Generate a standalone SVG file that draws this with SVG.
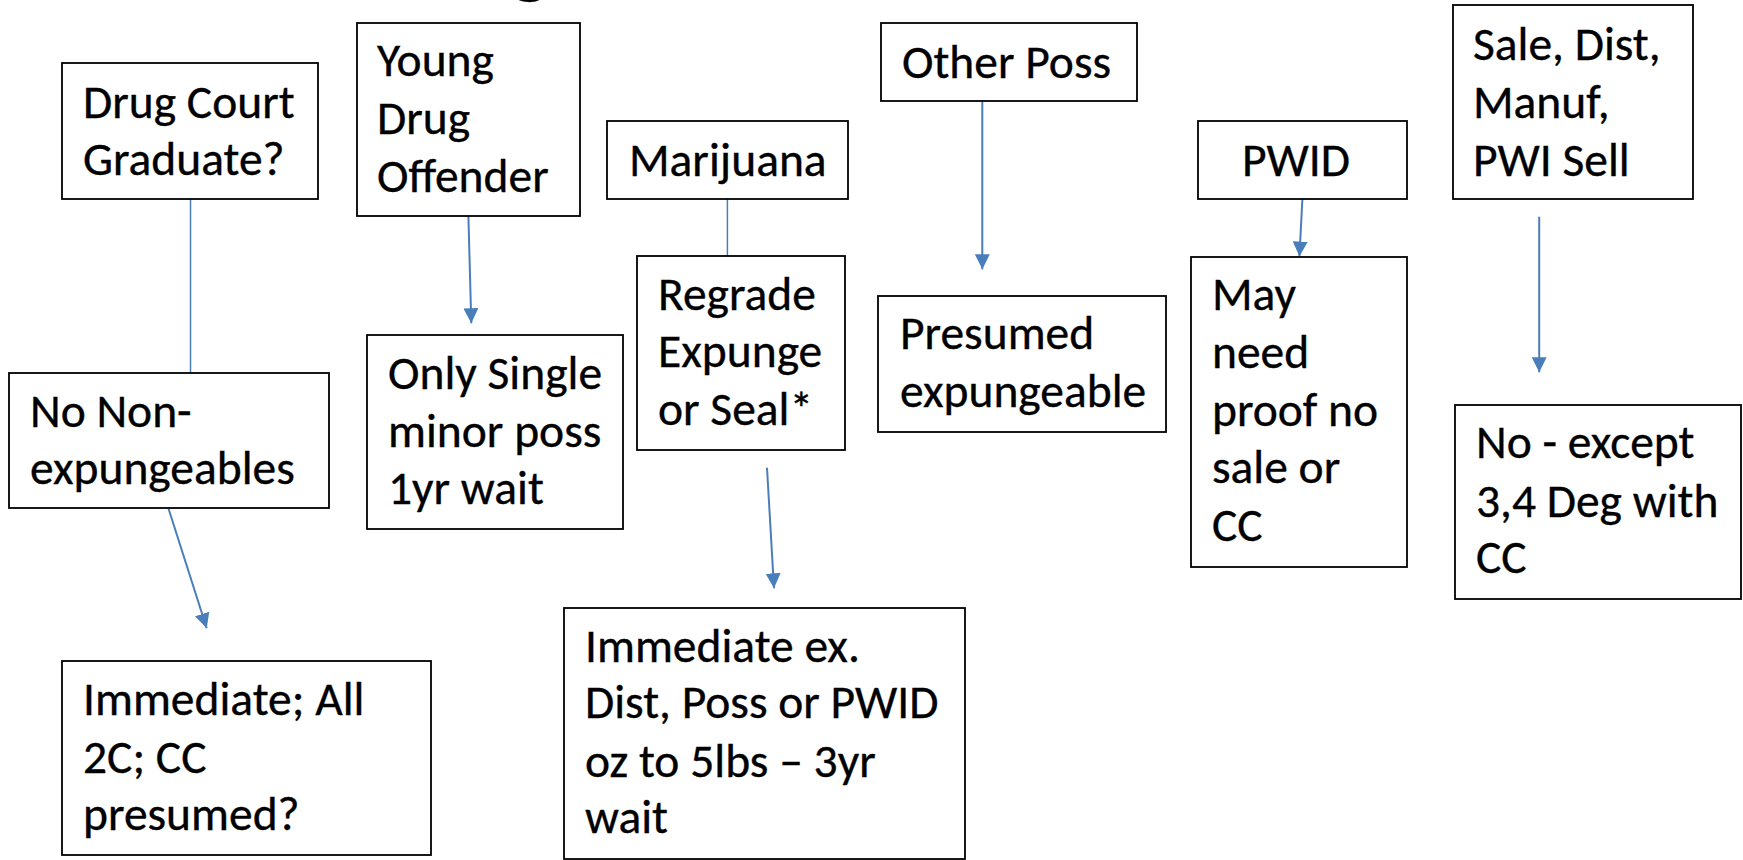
<svg xmlns="http://www.w3.org/2000/svg" width="1743" height="860" viewBox="0 0 1743 860">
<style>
.box{fill:#fff;stroke:#000;stroke-width:1.8}
.t{font-family:Carlito,Lato,"Liberation Sans",sans-serif;font-size:47.5px;fill:#000;stroke:#000;stroke-width:0.35}
.c{stroke:#4a7ebb;stroke-width:2;fill:none}
.cl{stroke:#4a7ebb;stroke-width:1.5;fill:none}
</style>
<defs>
<marker id="ah" markerUnits="userSpaceOnUse" markerWidth="16" markerHeight="16" refX="15" refY="7.5" orient="auto">
<path d="M0,0 L15,7.5 L0,15 z" fill="#4a7ebb"/>
</marker>
</defs>
<rect width="1743" height="860" fill="#fff"/>
<text class="t" x="530" y="-12" text-anchor="middle" style="font-size:80px">g</text>
<g id="connectors">
<line class="cl" x1="190.5" y1="199" x2="190.5" y2="373"/>
<line class="c" x1="468.4" y1="216" x2="471.3" y2="323.3" marker-end="url(#ah)"/>
<line class="cl" x1="727.4" y1="199" x2="727.4" y2="256"/>
<line class="c" x1="767" y1="467.7" x2="774" y2="588.3" marker-end="url(#ah)"/>
<line class="c" x1="982.3" y1="101" x2="982.3" y2="269.3" marker-end="url(#ah)"/>
<line class="c" x1="1302.4" y1="199" x2="1299.4" y2="256.5" marker-end="url(#ah)"/>
<line class="c" x1="1539.2" y1="216.7" x2="1539.2" y2="372.3" marker-end="url(#ah)"/>
<line class="c" x1="168.4" y1="508.3" x2="206.7" y2="628.3" marker-end="url(#ah)"/>
</g>
<g id="drug-court">
<rect class="box" x="62" y="63" width="256" height="136"/>
<text class="t" x="83" y="118">Drug Court</text>
<text class="t" x="83" y="175">Graduate?</text>
</g>
<g id="young-drug-offender">
<rect class="box" x="357" y="23" width="223" height="193"/>
<text class="t" x="377" y="76">Young</text>
<text class="t" x="377" y="134">Drug</text>
<text class="t" x="377" y="192">Offender</text>
</g>
<g id="marijuana">
<rect class="box" x="607" y="121" width="241" height="78"/>
<text class="t" x="629" y="176">Marijuana</text>
</g>
<g id="other-poss">
<rect class="box" x="881" y="23" width="256" height="78"/>
<text class="t" x="902" y="78">Other Poss</text>
</g>
<g id="pwid">
<rect class="box" x="1198" y="121" width="209" height="78"/>
<text class="t" x="1242" y="176">PWID</text>
</g>
<g id="sale-dist">
<rect class="box" x="1453" y="5" width="240" height="194"/>
<text class="t" x="1473" y="60">Sale, Dist,</text>
<text class="t" x="1473" y="118">Manuf,</text>
<text class="t" x="1473" y="176">PWI Sell</text>
</g>
<g id="no-non-expungeables">
<rect class="box" x="9" y="373" width="320" height="135"/>
<text class="t" x="30" y="427">No Non-</text>
<text class="t" x="30" y="484">expungeables</text>
</g>
<g id="only-single">
<rect class="box" x="367" y="335" width="256" height="194"/>
<text class="t" x="388" y="389">Only Single</text>
<text class="t" x="388" y="447">minor poss</text>
<text class="t" x="388" y="504">1yr wait</text>
</g>
<g id="regrade">
<rect class="box" x="637" y="256" width="208" height="194"/>
<text class="t" x="658" y="310">Regrade</text>
<text class="t" x="658" y="367">Expunge</text>
<text class="t" x="658" y="425">or Seal*</text>
</g>
<g id="presumed">
<rect class="box" x="878" y="296" width="288" height="136"/>
<text class="t" x="900" y="349">Presumed</text>
<text class="t" x="900" y="407">expungeable</text>
</g>
<g id="may-need">
<rect class="box" x="1191" y="257" width="216" height="310"/>
<text class="t" x="1212" y="310">May</text>
<text class="t" x="1212" y="368">need</text>
<text class="t" x="1212" y="426">proof no</text>
<text class="t" x="1212" y="483">sale or</text>
<text class="t" x="1212" y="541">CC</text>
</g>
<g id="no-except">
<rect class="box" x="1455" y="405" width="286" height="194"/>
<text class="t" x="1476" y="458">No - except</text>
<text class="t" x="1476" y="517">3,4 Deg with</text>
<text class="t" x="1476" y="573">CC</text>
</g>
<g id="immediate-all">
<rect class="box" x="62" y="661" width="369" height="194"/>
<text class="t" x="83" y="715">Immediate; All</text>
<text class="t" x="83" y="773">2C; CC</text>
<text class="t" x="83" y="830">presumed?</text>
</g>
<g id="immediate-ex">
<rect class="box" x="564" y="608" width="401" height="251"/>
<text class="t" x="585" y="662">Immediate ex.</text>
<text class="t" x="585" y="718">Dist, Poss or PWID</text>
<text class="t" x="585" y="777">oz to 5lbs – 3yr</text>
<text class="t" x="585" y="833">wait</text>
</g>
</svg>
